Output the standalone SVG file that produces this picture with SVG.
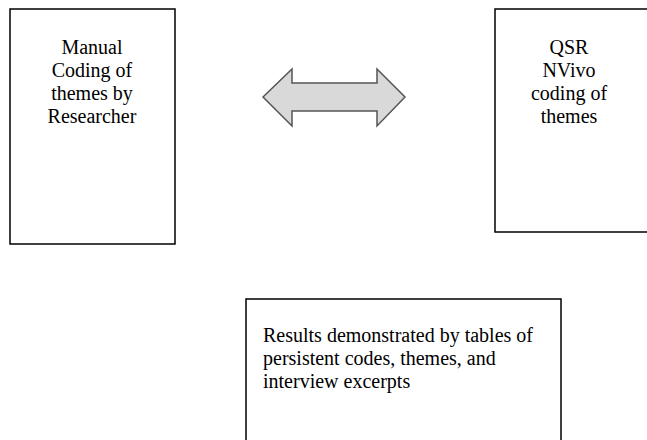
<svg xmlns="http://www.w3.org/2000/svg" width="647" height="440" viewBox="0 0 647 440">
<style>
.box{fill:#fff;stroke:#000;stroke-width:1.5}
.t{font-family:"Liberation Serif","Times New Roman",serif;font-size:20px;fill:#000}
.c{text-anchor:middle}
.arr{fill:#d9d9d9;stroke:#555;stroke-width:1.5;stroke-linejoin:miter}
</style>
<rect width="647" height="440" fill="#fff"/>
<g id="manual">
<rect class="box" x="10" y="9" width="165" height="235"/>
<text class="t c" x="92" y="54">Manual</text>
<text class="t c" x="92" y="77">Coding of</text>
<text class="t c" x="92" y="100">themes by</text>
<text class="t c" x="92" y="123">Researcher</text>
</g>
<g id="nvivo">
<rect class="box" x="495" y="9" width="160" height="223"/>
<text class="t c" x="569" y="54">QSR</text>
<text class="t c" x="569" y="77">NVivo</text>
<text class="t c" x="569" y="100">coding of</text>
<text class="t c" x="569" y="123">themes</text>
</g>
<g id="connectors">
<path class="arr" d="M263,97 L292,69 L292,83 L377,83 L377,69 L405,97 L377,126 L377,111 L292,111 L292,126 Z"/>
</g>
<g id="results">
<rect class="box" x="246" y="299" width="315" height="150"/>
<text class="t" x="263" y="342">Results demonstrated by tables of</text>
<text class="t" x="263" y="365">persistent codes, themes, and</text>
<text class="t" x="263" y="388">interview excerpts</text>
</g>
</svg>
